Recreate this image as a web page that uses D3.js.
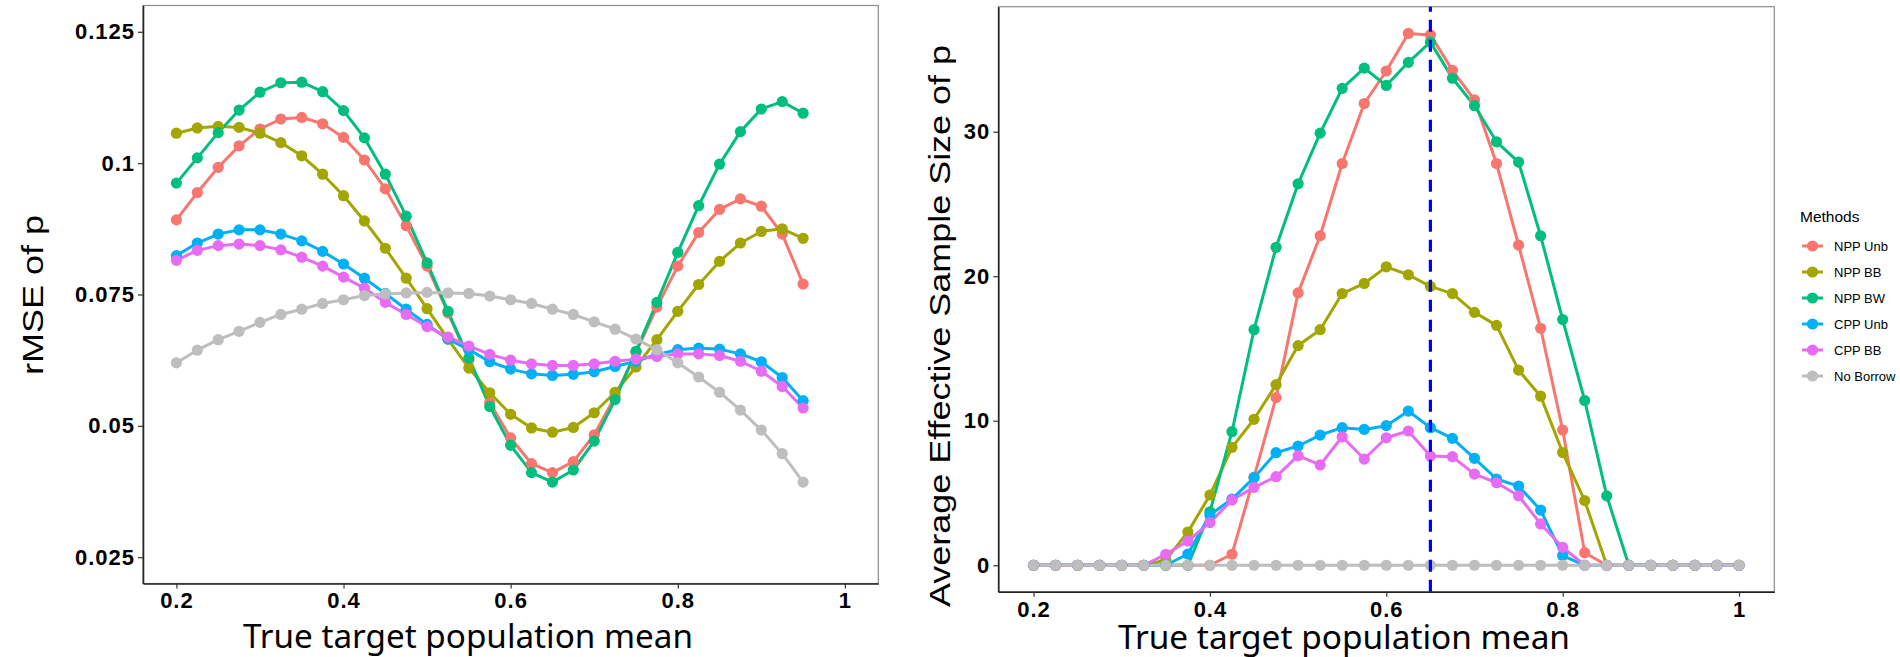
<!DOCTYPE html>
<html lang="en">
<head>
    <meta charset="UTF-8">
    <title>rMSE and Effective Sample Size by True Target Mean</title>
    <script src="https://cdnjs.cloudflare.com/ajax/libs/d3/7.8.5/d3.min.js"></script>
    <style>
        body {
            margin: 0;
            background-color: #ffffff;
        }
        svg {
            display: block;
        }
        .axis .tick text {
            font-family: "Liberation Sans", Arial, sans-serif;
            font-weight: bold;
            font-size: 22px;
            letter-spacing: 1px;
            fill: #000;
        }
        .axis .tick line {
            stroke: #333;
            stroke-width: 1.2;
        }
        .axis .domain {
            stroke: #222;
            stroke-width: 1.6;
        }
        .panel-border {
            fill: none;
            stroke: #8c8c8c;
            stroke-width: 1.2;
        }
        .ytitle {
            font-family: "Liberation Sans", Arial, sans-serif;
            font-size: 30px;
            fill: #000;
        }
        .xtitle {
            font-family: "Noto Sans", "Open Sans", sans-serif;
            font-size: 33px;
            fill: #000;
        }
        .legend text {
            font-family: "Liberation Sans", Arial, sans-serif;
            fill: #000;
        }
    </style>
</head>
<body>
    <svg id="chart" width="1900" height="657"></svg>

    <script>
        // Methods, in legend / drawing order
        const methods = ["NPP Unb", "NPP BB", "NPP BW", "CPP Unb", "CPP BB", "No Borrow"];
        const methodColors = ["#F8766D", "#A3A500", "#00BF7D", "#00B0F6", "#E76BF3", "#BEBEBE"];

        // Left panel: rMSE of p vs true target population mean
        const rmseMeans = [0.2, 0.225, 0.25, 0.275, 0.3, 0.325, 0.35, 0.375, 0.4, 0.425, 0.45, 0.475, 0.5,
            0.525, 0.55, 0.575, 0.6, 0.625, 0.65, 0.675, 0.7, 0.725, 0.75, 0.775, 0.8, 0.825, 0.85,
            0.875, 0.9, 0.925, 0.95];
        const rmseNppUnb = [0.0892, 0.0944, 0.0992, 0.1033, 0.1065, 0.1084, 0.1087, 0.1075, 0.1049, 0.1006,
            0.0951, 0.0881, 0.0804, 0.0715, 0.0626, 0.0544, 0.0477, 0.0428, 0.0411, 0.0432, 0.0483,
            0.0556, 0.0640, 0.0726, 0.0804, 0.0868, 0.0912, 0.0932, 0.0918, 0.0865, 0.0770];
        const rmseNppBB = [0.1057, 0.1067, 0.1070, 0.1068, 0.1057, 0.1039, 0.1014, 0.0979, 0.0938, 0.0890,
            0.0838, 0.0781, 0.0723, 0.0665, 0.0610, 0.0563, 0.0522, 0.0496, 0.0488, 0.0497, 0.0525,
            0.0564, 0.0612, 0.0664, 0.0718, 0.0769, 0.0813, 0.0848, 0.0870, 0.0875, 0.0857];
        const rmseNppBW = [0.0962, 0.1010, 0.1058, 0.1101, 0.1135, 0.1153, 0.1154, 0.1136, 0.1100, 0.1048,
            0.0979, 0.0899, 0.0810, 0.0718, 0.0629, 0.0537, 0.0463, 0.0411, 0.0393, 0.0416, 0.0471,
            0.0550, 0.0642, 0.0735, 0.0830, 0.0919, 0.0998, 0.1060, 0.1103, 0.1117, 0.1095];
        const rmseCppUnb = [0.0824, 0.0848, 0.0865, 0.0873, 0.0873, 0.0865, 0.0852, 0.0832, 0.0808, 0.0781,
            0.0752, 0.0722, 0.0693, 0.0665, 0.0645, 0.0622, 0.0608, 0.0599, 0.0596, 0.0598, 0.0603,
            0.0613, 0.0623, 0.0636, 0.0645, 0.0648, 0.0646, 0.0637, 0.0622, 0.0592, 0.0548];
        const rmseCppBB = [0.0815, 0.0834, 0.0843, 0.0846, 0.0843, 0.0835, 0.0821, 0.0804, 0.0783, 0.0762,
            0.0735, 0.0712, 0.0689, 0.0669, 0.0652, 0.0636, 0.0625, 0.0618, 0.0615, 0.0615, 0.0618,
            0.0623, 0.0627, 0.0632, 0.0637, 0.0637, 0.0634, 0.0623, 0.0604, 0.0575, 0.0534];
        const rmseNoBorrow = [0.0620, 0.0644, 0.0664, 0.0680, 0.0697, 0.0712, 0.0722, 0.0733, 0.0740, 0.0748,
            0.0751, 0.0753, 0.0754, 0.0753, 0.0752, 0.0747, 0.0740, 0.0733, 0.0722, 0.0712, 0.0698,
            0.0684, 0.0665, 0.0645, 0.0620, 0.0593, 0.0564, 0.0530, 0.0492, 0.0447, 0.0393];

        // Right panel: average effective sample size vs true target population mean
        const essMeans = [0.2, 0.225, 0.25, 0.275, 0.3, 0.325, 0.35, 0.375, 0.4, 0.425, 0.45, 0.475, 0.5,
            0.525, 0.55, 0.575, 0.6, 0.625, 0.65, 0.675, 0.7, 0.725, 0.75, 0.775, 0.8, 0.825, 0.85,
            0.875, 0.9, 0.925, 0.95, 0.975, 1.0];
        const essNppUnb = [0, 0, 0, 0, 0, 0, 0, 0, 0, 0.76, 6.1, 11.6, 18.85, 22.8, 27.8, 31.95, 34.2,
            36.8, 36.7, 34.25, 32.2, 27.8, 22.15, 16.4, 9.36, 0.87, 0, 0, 0, 0, 0, 0, 0];
        const essNppBB = [0, 0, 0, 0, 0, 0, 0.37, 2.3, 4.86, 8.16, 10.1, 12.5, 15.2, 16.3, 18.8, 19.5, 20.65,
            20.1, 19.3, 18.8, 17.5, 16.6, 13.5, 11.7, 7.8, 4.47, 0, 0, 0, 0, 0, 0, 0];
        const essNppBW = [0, 0, 0, 0, 0, 0, 0, 0, 3.7, 9.24, 16.3, 22.0, 26.4, 29.9, 33.0, 34.4, 33.2,
            34.8, 36.2, 33.7, 31.8, 29.3, 27.9, 22.8, 17.0, 11.4, 4.8, 0, 0, 0, 0, 0, 0];
        const essCppUnb = [0, 0, 0, 0, 0, 0, 0, 0.78, 3.48, 4.58, 6.06, 7.79, 8.25, 9.01, 9.52, 9.4, 9.66,
            10.67, 9.52, 8.78, 7.4, 5.97, 5.48, 3.82, 0.67, 0, 0, 0, 0, 0, 0, 0, 0];
        const essCppBB = [0, 0, 0, 0, 0, 0, 0.76, 1.68, 2.95, 4.52, 5.39, 6.13, 7.58, 6.94, 8.89, 7.35, 8.82,
            9.29, 7.56, 7.51, 6.31, 5.71, 4.81, 2.86, 1.24, 0, 0, 0, 0, 0, 0, 0, 0];
        const essNoBorrow = [0, 0, 0, 0, 0, 0, 0, 0, 0, 0, 0, 0, 0, 0, 0, 0, 0,
            0, 0, 0, 0, 0, 0, 0, 0, 0, 0, 0, 0, 0, 0, 0, 0];
        const essReferenceMean = 0.65;

        // Tick labels
        const xTickValues = [0.2, 0.4, 0.6, 0.8, 1];
        const xTickLabels = ["0.2", "0.4", "0.6", "0.8", "1"];
        const rmseTickValues = [0.025, 0.05, 0.075, 0.1, 0.125];
        const rmseTickLabels = ["0.025", "0.05", "0.075", "0.1", "0.125"];
        const essTickValues = [0, 10, 20, 30];
        const essTickLabels = ["0", "10", "20", "30"];

        const rmseSeries = [rmseNppUnb, rmseNppBB, rmseNppBW, rmseCppUnb, rmseCppBB, rmseNoBorrow];
        const essSeries = [essNppUnb, essNppBB, essNppBW, essCppUnb, essCppBB, essNoBorrow];

        const svg = d3.select("#chart");

        function drawPanel(opts) {
            const x = d3.scaleLinear().domain(opts.xDomain).range([opts.left, opts.right]);
            const y = d3.scaleLinear().domain(opts.yDomain).range([opts.bottom, opts.top]);
            const g = svg.append("g");

            // panel border (top/right in grey)
            g.append("rect")
                .attr("class", "panel-border")
                .attr("x", opts.left)
                .attr("y", opts.top)
                .attr("width", opts.right - opts.left)
                .attr("height", opts.bottom - opts.top);

            // series lines first, then points
            const line = d3.line()
                .x((d, i) => x(opts.xs[i]))
                .y(d => y(d));

            opts.series.forEach((vals, k) => {
                g.append("path")
                    .datum(vals)
                    .attr("fill", "none")
                    .attr("stroke", methodColors[k])
                    .attr("stroke-width", 3)
                    .attr("stroke-linejoin", "round")
                    .attr("d", line);
            });

            opts.series.forEach((vals, k) => {
                g.selectAll(null)
                    .data(vals)
                    .enter()
                    .append("circle")
                    .attr("cx", (d, i) => x(opts.xs[i]))
                    .attr("cy", d => y(d))
                    .attr("r", 5.6)
                    .attr("fill", methodColors[k]);
            });

            // axes
            g.append("g")
                .attr("class", "axis")
                .attr("transform", `translate(0,${opts.bottom})`)
                .call(d3.axisBottom(x)
                    .tickValues(xTickValues)
                    .tickFormat((d, i) => xTickLabels[i])
                    .tickSize(5)
                    .tickSizeOuter(0)
                    .tickPadding(opts.xPad));

            g.append("g")
                .attr("class", "axis")
                .attr("transform", `translate(${opts.left},0)`)
                .call(d3.axisLeft(y)
                    .tickValues(opts.yTickValues)
                    .tickFormat((d, i) => opts.yTickLabels[i])
                    .tickSize(5)
                    .tickSizeOuter(0)
                    .tickPadding(3));

            return { x, y, g };
        }

        // Left panel
        drawPanel({
            left: 143, right: 878.3, top: 5.5, bottom: 583.5,
            xDomain: [0.16, 1.04], yDomain: [0.02, 0.13],
            xs: rmseMeans, series: rmseSeries,
            yTickValues: rmseTickValues, yTickLabels: rmseTickLabels,
            xPad: 4
        });

        // Right panel
        const ess = drawPanel({
            left: 998.3, right: 1774.3, top: 6.7, bottom: 591.7,
            xDomain: [0.16, 1.04], yDomain: [-1.83, 38.65],
            xs: essMeans, series: essSeries,
            yTickValues: essTickValues, yTickLabels: essTickLabels,
            xPad: 4.5
        });

        // dashed reference line at the true mean 0.65
        ess.g.append("line")
            .attr("x1", ess.x(essReferenceMean))
            .attr("x2", ess.x(essReferenceMean))
            .attr("y1", ess.y.range()[0])
            .attr("y2", ess.y.range()[1])
            .attr("stroke", "#0000FF")
            .attr("stroke-width", 3.2)
            .attr("stroke-dasharray", "12,8");

        // Axis titles
        svg.append("text")
            .attr("class", "ytitle")
            .attr("transform", "translate(43,295) rotate(-90)")
            .attr("text-anchor", "middle")
            .attr("textLength", 160)
            .attr("lengthAdjust", "spacingAndGlyphs")
            .text("rMSE of p");

        svg.append("text")
            .attr("class", "ytitle")
            .attr("transform", "translate(950,326) rotate(-90)")
            .attr("text-anchor", "middle")
            .attr("textLength", 562)
            .attr("lengthAdjust", "spacingAndGlyphs")
            .text("Average Effective Sample Size of p");

        svg.append("text")
            .attr("class", "xtitle")
            .attr("x", 243)
            .attr("y", 648)
            .attr("textLength", 450)
            .attr("lengthAdjust", "spacingAndGlyphs")
            .text("True target population mean");

        svg.append("text")
            .attr("class", "xtitle")
            .attr("x", 1118)
            .attr("y", 649)
            .attr("textLength", 452)
            .attr("lengthAdjust", "spacingAndGlyphs")
            .text("True target population mean");

        // Legend
        const legend = svg.append("g")
            .attr("class", "legend")
            .attr("transform", "translate(1800,0)");

        legend.append("text")
            .attr("x", 0)
            .attr("y", 222)
            .attr("font-size", 15.5)
            .text("Methods");

        const itemY = d3.scalePoint().domain(methods).range([246, 376]);

        methods.forEach((m, k) => {
            const cy = itemY(m);
            legend.append("line")
                .attr("x1", 2).attr("x2", 23)
                .attr("y1", cy).attr("y2", cy)
                .attr("stroke", methodColors[k])
                .attr("stroke-width", 3);
            legend.append("circle")
                .attr("cx", 12.5).attr("cy", cy)
                .attr("r", 5.6)
                .attr("fill", methodColors[k]);
            legend.append("text")
                .attr("x", 34)
                .attr("y", cy + 4.6)
                .attr("font-size", 13)
                .text(m);
        });
    </script>
</body>
</html>
